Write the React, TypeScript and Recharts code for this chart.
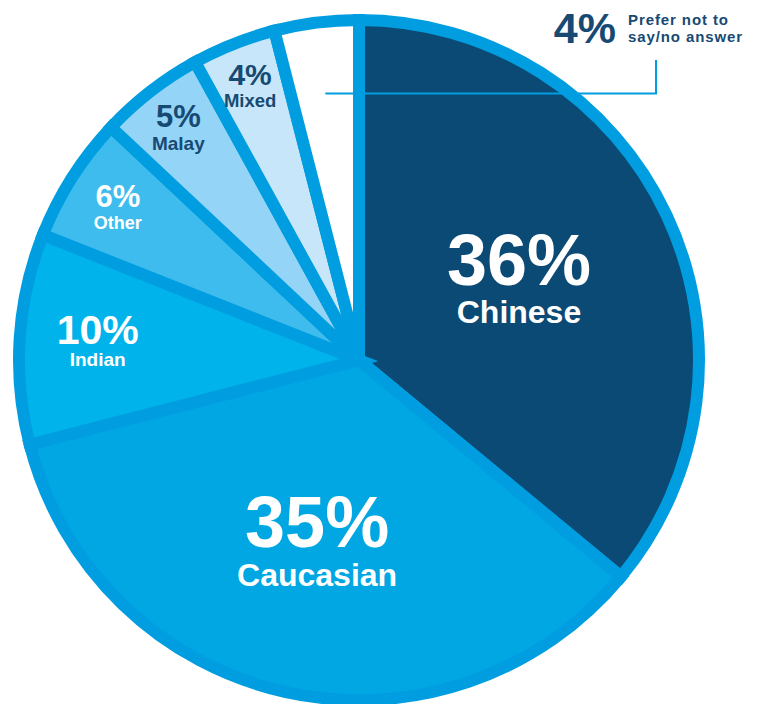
import { PieChart, Pie, Cell } from 'recharts';

const GROUPS = ['Chinese', 'Caucasian', 'Indian', 'Other', 'Malay', 'Mixed', 'Prefer not to say/no answer'];
const SHARES = [36, 35, 10, 6, 5, 4, 4];
const CALLOUT_LINES = ['Prefer not to', 'say/no answer'];

const COLORS = ['#0b4a74', '#00a7e3', '#00b4eb', '#3ebcee', '#94d4f6', '#c8e6f9', '#ffffff'];
const BORDER = '#009ee0';
const DARK_TEXT = '#174a73';
const FONT = '"Liberation Sans", Arial, sans-serif';

// per-slice label styling: radius fraction, percent size, name size, fill
const LABEL_R = [0.52, 0.565, 0.77, 0.84, 0.867, 0.87];
const PCT_SIZE = [72, 72, 41, 31, 31, 30];
const NAME_SIZE = [32, 32, 19, 18, 19, 18.5];
const LABEL_FILL = ['#fff', '#fff', '#fff', '#fff', DARK_TEXT, DARK_TEXT];

const data = GROUPS.map((name, i) => ({ name, value: SHARES[i] }));
const RAD = Math.PI / 180;

function renderLabel(props: any) {
  const { cx, cy, midAngle, outerRadius, index, value } = props;

  if (index === GROUPS.length - 1) {
    // callout for the small white slice
    const r = outerRadius * 0.79;
    const x0 = cx + r * Math.cos(-midAngle * RAD);
    const y0 = cy + r * Math.sin(-midAngle * RAD);
    const cornerX = cx + 297;
    const topY = 60;
    return (
      <g>
        <polyline
          points={`${x0},${y0} ${cornerX},${y0} ${cornerX},${topY}`}
          fill="none"
          stroke={BORDER}
          strokeWidth={2}
        />
        <text x={cornerX - 40} y={43} textAnchor="end" fill={DARK_TEXT}
          fontFamily={FONT} fontWeight={700} fontSize={43}>
          {value}%
        </text>
        {CALLOUT_LINES.map((line, i) => (
          <text key={i} x={cornerX - 28} y={25 + i * 16.5} fill={DARK_TEXT}
            fontFamily={FONT} fontWeight={700} fontSize={15} letterSpacing={0.9}>
            {line}
          </text>
        ))}
      </g>
    );
  }

  const r = outerRadius * LABEL_R[index];
  const x = cx + r * Math.cos(-midAngle * RAD);
  const y = cy + r * Math.sin(-midAngle * RAD);
  return (
    <g fontFamily={FONT} fontWeight={700} fill={LABEL_FILL[index]} textAnchor="middle">
      <text x={x} y={y} fontSize={PCT_SIZE[index]} fill={LABEL_FILL[index]}>{value}%</text>
      <text x={x} y={y + NAME_SIZE[index] * 1.2} fontSize={NAME_SIZE[index]} fill={LABEL_FILL[index]}>
        {GROUPS[index]}
      </text>
    </g>
  );
}

export default function App() {
  return (
    <div style={{ position: 'fixed', left: 0, top: 0, background: '#fff' }}>
      <PieChart width={761} height={704} margin={{ top: 0, right: 0, bottom: 0, left: 0 }}>
        <Pie
          data={data}
          dataKey="value"
          cx={359}
          cy={360}
          outerRadius={340}
          startAngle={90}
          endAngle={-270}
          stroke={BORDER}
          strokeWidth={12}
          label={renderLabel}
          labelLine={false}
          isAnimationActive={false}
        >
          {data.map((_, i) => (
            <Cell key={i} fill={COLORS[i]} />
          ))}
        </Pie>
      </PieChart>
    </div>
  );
}
